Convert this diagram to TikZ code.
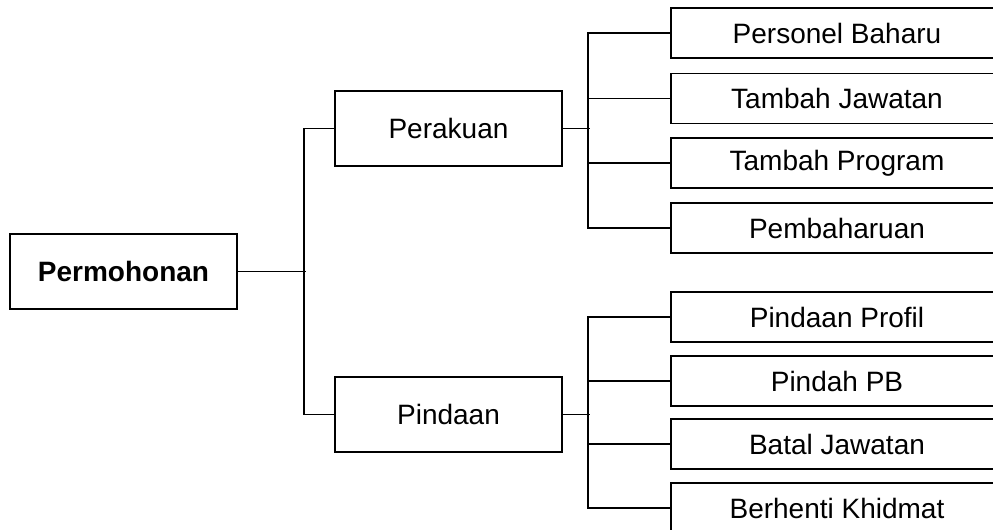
\documentclass[tikz,border=0pt]{standalone}
\usepackage{fontspec}
\setmainfont{Liberation Sans}
\begin{document}
\begin{tikzpicture}[x=0.5pt,y=-0.5pt,
  box/.style={draw,line width=0.8pt,inner sep=0pt,font=\fontsize{14}{16}\selectfont},
  midbox/.style={box,minimum width=113.5pt,minimum height=37.5pt},
  leaf/.style={box,minimum width=166pt,minimum height=25pt},
  link/.style={line width=0.8pt}]
\clip (0,0) rectangle (993,530);
\fill[white] (0,0) rectangle (993,530);

% root and second level
\node[box,minimum width=113.5pt,minimum height=37.5pt,font=\fontsize{14}{16}\selectfont\bfseries] (perm) at (123.5,271.5) {Permohonan};
\node[midbox] (perak) at (448.5,128.5) {Perakuan};
\node[midbox] (pind) at (448.5,414.5) {Pindaan};

% leaves under Perakuan
\node[leaf] (pb) at (837,33) {Personel Baharu};
\node[leaf] (tj) at (837,98.5) {Tambah Jawatan};
\node[leaf] (tp) at (837,163) {Tambah Program};
\node[leaf] (pm) at (837,228) {Pembaharuan};

% leaves under Pindaan
\node[leaf] (pp) at (837,317) {Pindaan Profil};
\node[leaf] (ppb) at (837,381) {Pindah PB};
\node[leaf] (bj) at (837,444) {Batal Jawatan};
\node[leaf] (bk) at (837,508) {Berhenti Khidmat};

% root bracket
\draw[link] (perm.east) -- ++(68,0);
\draw[link] (perak.west) -- ++(-30,0) |- (pind.west);

% Perakuan bracket
\draw[link] (perak.east) -- ++(27,0);
\draw[link] (pb.west) -- ++(-82,0) |- (pm.west);
\draw[link] (tj.west) -- ++(-82,0);
\draw[link] (tp.west) -- ++(-82,0);

% Pindaan bracket
\draw[link] (pind.east) -- ++(27,0);
\draw[link] (pp.west) -- ++(-82,0) |- (bk.west);
\draw[link] (ppb.west) -- ++(-82,0);
\draw[link] (bj.west) -- ++(-82,0);
\end{tikzpicture}
\end{document}
